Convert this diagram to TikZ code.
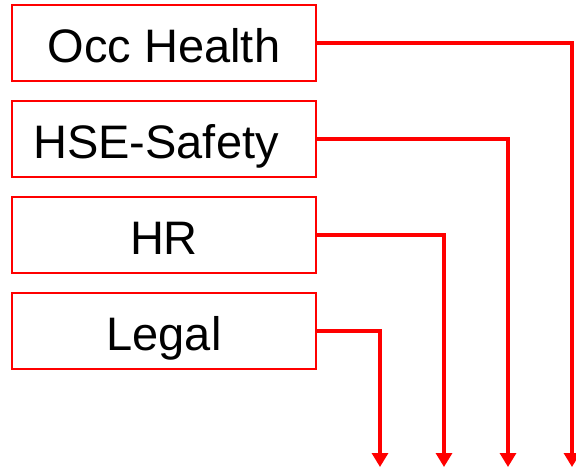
\documentclass[tikz,border=0pt]{standalone}
\usepackage{fontspec}
\setmainfont{Liberation Sans}
\usetikzlibrary{arrows.meta}
\begin{document}
\begin{tikzpicture}[x=1pt,y=-1pt,
  unitbox/.style={draw=red, line width=2pt, fill=white, minimum width=304pt,
    minimum height=76pt, inner sep=0pt, font=\fontsize{47}{50}\selectfont,
    text height=38pt, text depth=0pt},
  feed/.style={draw=red, line width=3.2pt,
    -{Triangle[width=16pt,length=14pt]}}]
  \useasboundingbox (0,0) rectangle (576,469);
  % department boxes
  \node[unitbox] (occ)   at (164,43)  {Occ Health};
  \node[unitbox] (hse)   at (164,139) {};
  \node (hsetext) at (156,139) [font=\fontsize{47}{50}\selectfont, inner sep=0pt,
    text height=38pt, text depth=0pt] {HSE-Safety};
  \node[unitbox] (hr)    at (164,235) {HR};
  \node[unitbox] (legal) at (164,331) {Legal};
  % arrow end points
  \coordinate (e1) at (572,467);
  \coordinate (e2) at (508,467);
  \coordinate (e3) at (444,467);
  \coordinate (e4) at (380,467);
  % feeds
  \draw[feed] (occ.east)   -| (e1);
  \draw[feed] (hse.east)   -| (e2);
  \draw[feed] (hr.east)    -| (e3);
  \draw[feed] (legal.east) -| (e4);
\end{tikzpicture}
\end{document}
